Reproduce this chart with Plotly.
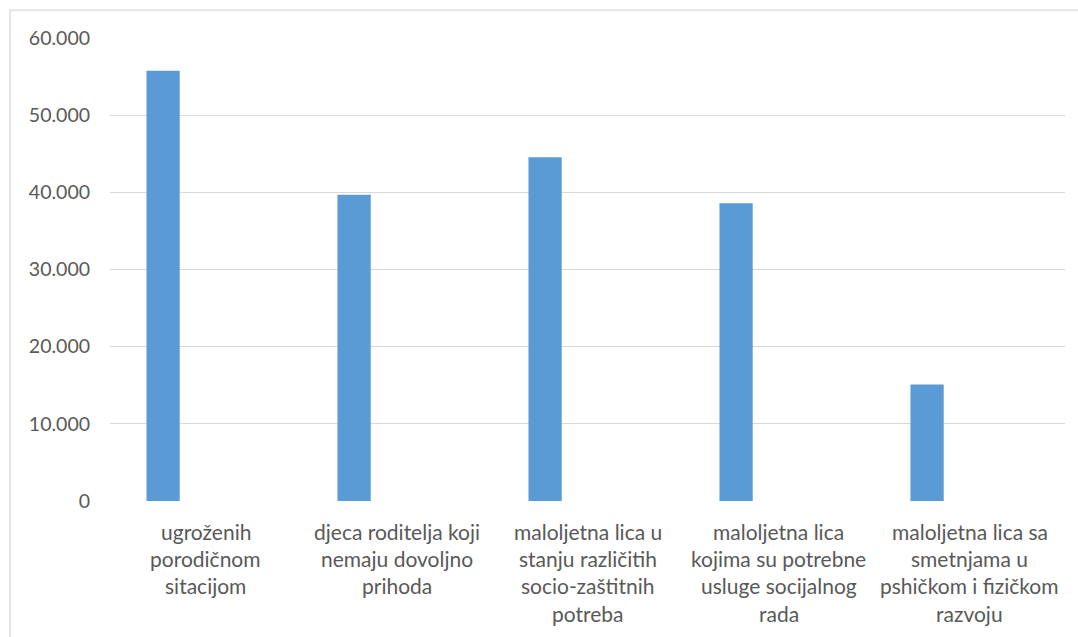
import plotly.graph_objects as go

categories = [
    "ugroženih porodičnom sitacijom",
    "djeca roditelja koji nemaju dovoljno prihoda",
    "maloljetna lica u stanju različitih socio-zaštitnih potreba",
    "maloljetna lica kojima su potrebne usluge socijalnog rada",
    "maloljetna lica sa smetnjama u pshičkom i fizičkom razvoju",
]
label_lines = [
    ["ugroženih", "porodičnom", "sitacijom"],
    ["djeca roditelja koji", "nemaju dovoljno", "prihoda"],
    ["maloljetna lica u", "stanju različitih", "socio-zaštitnih", "potreba"],
    ["maloljetna lica", "kojima su potrebne", "usluge socijalnog", "rada"],
    ["maloljetna lica sa", "smetnjama u", "pshičkom i fizičkom", "razvoju"],
]
values = [55760, 39700, 44550, 38570, 15090]
tick_vals = [0, 10000, 20000, 30000, 40000, 50000, 60000]
tick_text = ["0", "10.000", "20.000", "30.000", "40.000", "50.000", "60.000"]

FONT = "Lato"
TXT = "#595959"
W, H = 1078, 637
L, R, T, B = 109.5, 13, 38.3, 135.5
pw = W - L - R
ph = H - T - B

xs = list(range(len(categories)))
fig = go.Figure()
fig.add_trace(go.Bar(
    x=xs, y=values, width=0.174, offset=-0.309,
    marker=dict(color="#5B9BD5", line=dict(width=0)),
    hovertext=categories, hoverinfo="text+y",
))

annotations = []
for i, lines in enumerate(label_lines):
    for k, line in enumerate(lines):
        annotations.append(dict(
            x=i, xref="x", y=0, yref="paper", text=line, showarrow=False,
            xanchor="center", yanchor="middle", yshift=-(30.5 + 27.2 * k),
            font=dict(family=FONT, size=21, color=TXT),
        ))

def px_x(p):
    return (p - L) / pw

def px_y(p):
    return (H - B - p) / ph

fig.update_layout(
    width=W, height=H,
    margin=dict(l=L, r=R, t=T, b=B, autoexpand=False),
    paper_bgcolor="white", plot_bgcolor="white",
    showlegend=False,
    font=dict(family=FONT, size=19.5, color=TXT),
    xaxis=dict(range=[-0.5, 4.5], showticklabels=False, showgrid=False,
               zeroline=False, showline=False, ticks=""),
    yaxis=dict(range=[0, 60000], tickvals=tick_vals, ticktext=tick_text,
               showgrid=True, gridcolor="#D9D9D9", gridwidth=1.3,
               zeroline=False, showline=False, ticks="",
               ticklabelstandoff=19,
               tickfont=dict(family=FONT, size=19.5, color=TXT)),
    annotations=annotations,
    shapes=[dict(type="rect", xref="paper", yref="paper",
                 x0=px_x(9.5), x1=px_x(1090), y0=px_y(650), y1=px_y(10.5),
                 line=dict(color="#D9D9D9", width=1.3), layer="below")],
)

fig.write_html(
    "out.html",
    config={"displayModeBar": False},
    post_script="document.body.style.margin='0';document.body.style.overflow='hidden';",
)
